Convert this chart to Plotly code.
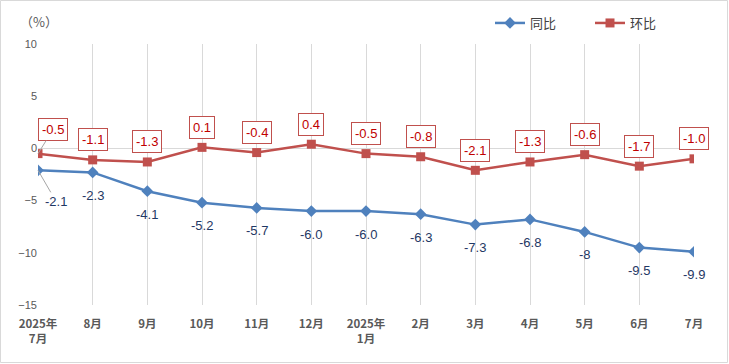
import plotly.graph_objects as go

categories = ["2025年<br>7月", "8月", "9月", "10月", "11月", "12月", "2025年<br>1月",
              "2月", "3月", "4月", "5月", "6月", "7月"]
yoy = [-2.1, -2.3, -4.1, -5.2, -5.7, -6.0, -6.0, -6.3, -7.3, -6.8, -8, -9.5, -9.9]
mom = [-0.5, -1.1, -1.3, 0.1, -0.4, 0.4, -0.5, -0.8, -2.1, -1.3, -0.6, -1.7, -1.0]
yoy_text = ["-2.1", "-2.3", "-4.1", "-5.2", "-5.7", "-6.0", "-6.0", "-6.3", "-7.3", "-6.8", "-8", "-9.5", "-9.9"]
mom_text = ["-0.5", "-1.1", "-1.3", "0.1", "-0.4", "0.4", "-0.5", "-0.8", "-2.1", "-1.3", "-0.6", "-1.7", "-1.0"]

BLUE = "#4f81bd"
RED = "#c0504d"
FONT = "Liberation Sans, Noto Sans CJK SC, sans-serif"
xs = list(range(len(categories)))

fig = go.Figure()
fig.add_trace(go.Scatter(x=xs, y=yoy, name="同比", mode="lines+markers",
                         line=dict(color=BLUE, width=2.5),
                         marker=dict(symbol="diamond", size=9, color=BLUE)))
fig.add_trace(go.Scatter(x=xs, y=mom, name="环比", mode="lines+markers",
                         line=dict(color=RED, width=2.5),
                         marker=dict(symbol="square", size=9, color=RED)))

annotations = []
for i, (v, t) in enumerate(zip(mom, mom_text)):
    if i == 0:
        annotations.append(dict(x=i, y=v, text=t, showarrow=True, arrowhead=0,
                                 arrowcolor="#a6a6a6", arrowwidth=1, ax=15, ay=-24,
                                 font=dict(family=FONT, size=13, color="#c00000"),
                                 bgcolor="white", bordercolor=RED, borderwidth=1, borderpad=3))
    else:
        annotations.append(dict(x=i, y=v, text=t, showarrow=False, yshift=20,
                                 font=dict(family=FONT, size=13, color="#c00000"),
                                 bgcolor="white", bordercolor=RED, borderwidth=1, borderpad=3))
for i, (v, t) in enumerate(zip(yoy, yoy_text)):
    if i == 0:
        annotations.append(dict(x=i, y=v, text=t, showarrow=True, arrowhead=0,
                                 arrowcolor="#a6a6a6", arrowwidth=1, ax=18, ay=31,
                                 font=dict(family=FONT, size=13, color="#1f3864")))
    else:
        annotations.append(dict(x=i, y=v, text=t, showarrow=False, yshift=-23,
                                 font=dict(family=FONT, size=13, color="#1f3864")))

L, R, T, B = 38, 35, 44, 59
pw, ph = 729 - L - R, 364 - T - B

annotations.append(dict(xref="paper", yref="paper", x=(39 - L) / pw, y=1 + (T - 22) / ph,
                         xanchor="center", yanchor="middle",
                         text="（%）", showarrow=False,
                         font=dict(family="Noto Sans CJK SC", size=13, color="#595959")))

shapes = [dict(type="rect", xref="paper", yref="paper",
               x0=-(L - 0.5) / pw, x1=1 + (R - 1.5) / pw,
               y0=-(B - 1.5) / ph, y1=1 + (T - 0.5) / ph,
               line=dict(color="#d9d9d9", width=1), fillcolor="rgba(0,0,0,0)", layer="below")]

fig.update_layout(
    width=729, height=364,
    margin=dict(l=L, r=R, t=T, b=B, autoexpand=False),
    paper_bgcolor="white", plot_bgcolor="white",
    font=dict(family=FONT, color="#595959"),
    showlegend=True,
    legend=dict(orientation="h", x=(490 - L) / pw, y=1 + (T - 8) / ph, xanchor="left", yanchor="top",
                font=dict(family="Noto Sans CJK SC", size=13, color="#404040"),
                entrywidth=55, entrywidthmode="pixels",
                bgcolor="rgba(0,0,0,0)"),
    annotations=annotations,
    shapes=shapes,
    xaxis=dict(range=[0, 12], tickmode="array", tickvals=xs, ticktext=categories,
               showgrid=True, gridcolor="#d9d9d9", gridwidth=1, zeroline=False,
               showline=False, ticks="outside", ticklen=8, tickcolor="rgba(0,0,0,0)",
               automargin=False,
               tickfont=dict(family="Noto Sans CJK SC", size=11.5, color="#595959", weight="bold")),
    yaxis=dict(range=[-15, 10], tickmode="array", tickvals=[-15, -10, -5, 0, 5, 10],
               showgrid=False, zeroline=True, zerolinecolor="#d9d9d9", zerolinewidth=1,
               showline=False, ticks="", automargin=False,
               tickfont=dict(family=FONT, size=11, color="#595959")),
)

fig.write_html("out.html", config={"displayModeBar": False},
               post_script="document.body.style.margin='0';")
